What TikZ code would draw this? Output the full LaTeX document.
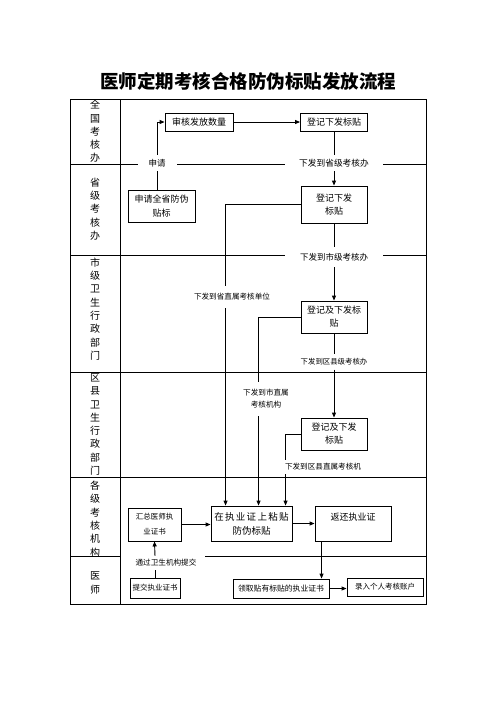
\documentclass[tikz,border=0pt]{standalone}
\usepackage{fontspec}
\setmainfont{Noto Sans CJK SC}
\usetikzlibrary{arrows.meta,calc,positioning}
\definecolor{mo}{HTML}{000000}
\pgfdeclarelayer{dise}
\pgfsetlayers{dise,main}
\newcommand{\kong}{\hspace{1.3pt}}
\tikzset{
  biao/.style={draw=mo,line width=0.9pt},
  kuang/.style={draw=mo,fill=white,line width=0.9pt,inner sep=0pt,align=center,font=\fontsize{9}{13}\selectfont},
  zhu/.style={fill=white,inner xsep=12pt,inner ysep=4pt,align=center,font=\fontsize{7.6}{12}\selectfont},
  lanming/.style={align=center,inner sep=0pt,font=\fontsize{10}{13.3}\selectfont},
  xian/.style={draw=mo,line width=0.9pt},
  jian/.style={xian,-{Triangle[length=5pt,width=4pt]}},
}

\begin{document}
\begin{tikzpicture}[x=1pt,y=-1pt]
\useasboundingbox (0,0) rectangle (496,702);
\node[font=\fontsize{18.5}{22}\selectfont\bfseries] (biaoti) at (248,81) {医师定期考核合格防伪标贴发放流程};
% biaoge
\begin{pgfonlayer}{dise}
\draw[biao] (70,99) rectangle (426,604);
\draw[biao] (120,99) -- (120,604);
\draw[biao] (70,164) -- (426,164);
\draw[biao] (70,255) -- (426,255);
\draw[biao] (70,372) -- (426,372);
\draw[biao] (70,477) -- (426,477);
\draw[biao] (70,556) -- (120,556);
\draw[biao] (205,556) -- (426,556);
\end{pgfonlayer}
\node[lanming] (quanguo) at (95,131.5) {全\\国\\考\\核\\办};
\node[lanming] (shengji) at (95,209) {省\\级\\考\\核\\办};
\node[lanming] (shiji) at (95,309) {市\\级\\卫\\生\\行\\政\\部\\门};
\node[lanming] (quxian) at (95,424.5) {区\\县\\卫\\生\\行\\政\\部\\门};
\node[lanming] (geji) at (95,519) {各\\级\\考\\核\\机\\构};
\node[lanming] (yishi) at (95,583) {医\\师};
% kuang
\node[kuang,minimum width=68,minimum height=18] (shenhe) at (199,122) {审核发放数量};
\node[kuang,minimum width=67,minimum height=18] (dengji1) at (334,122) {登记下发标贴};
\node[kuang,minimum width=67,minimum height=32,font=\fontsize{9}{14}\selectfont] (shenqing) at (161.5,206) {申请全省防伪\\贴标};
\node[kuang,minimum width=66,minimum height=37] (dengji2) at (334,204.5) {登记下发\\标贴};
\node[kuang,minimum width=66,minimum height=32] (dengji3) at (334,317) {登记及下发标\\贴};
\node[kuang,minimum width=66,minimum height=32] (dengji4) at (334,434) {登记及下发\\标贴};
\node[kuang,minimum width=53,minimum height=33,font=\fontsize{7.5}{15}\selectfont] (huizong) at (154.5,524.5) {汇总医师执\\业证书};
\node[kuang,minimum width=81,minimum height=35,font=\fontsize{9.5}{14}\selectfont] (zhantie) at (251.5,523.5) {在\kong 执\kong 业\kong 证\kong 上\kong 粘\kong 贴\\防伪标贴};
\node[kuang,minimum width=76,minimum height=35] (fanhuan) at (353,523.5) {返还执业证\\\mbox{}};
\node[kuang,minimum width=96,minimum height=19,font=\fontsize{7.8}{10}\selectfont] (lingqu) at (281,588.5) {领取贴有标贴的执业证书};
\node[kuang,minimum width=76,minimum height=18,font=\fontsize{7.5}{10}\selectfont] (luru) at (385,587) {录入个人考核账户};
\node[kuang,minimum width=50,minimum height=20,font=\fontsize{7.5}{10}\selectfont] (tijiao) at (155,588) {提交执业证书};
% zhushi
\node[zhu,font=\fontsize{8.5}{10}\selectfont,inner xsep=11pt] (shenqingzi) at (157,163) {申请};
\node[zhu,font=\fontsize{8.7}{10}\selectfont,inner xsep=14pt] (xiafasheng) at (334,163) {下发到省级考核办};
\node[zhu,font=\fontsize{8.5}{10}\selectfont,inner xsep=15pt,inner ysep=6pt] (xiafashi) at (334,257) {下发到市级考核办};
\node[zhu,inner ysep=7pt] (xiafashengzhi) at (232,297) {下发到省直属考核单位};
\node[zhu,font=\fontsize{7.4}{10}\selectfont] (xiafaqu) at (334,362) {下发到区县级考核办};
\node[zhu,inner xsep=5pt,inner ysep=7pt] (xiafashizhi) at (266,399) {下发到市直属\\考核机构};
\node[zhu,inner ysep=3pt,inner xsep=3pt] (xiafaquzhi) at (323,467) {下发到区县直属考核机};
\node[zhu,inner ysep=3pt,inner xsep=3pt] (tongguo) at (166,563) {通过卫生机构提交};
% lianxian
\coordinate (ru1) at ([xshift=15pt]zhantie.north west);
\coordinate (ru2) at ([xshift=48pt]zhantie.north west);
\coordinate (ru3) at ([xshift=75pt]zhantie.north west);
\coordinate (chufan) at ([xshift=7pt]fanhuan.south west);
\begin{pgfonlayer}{dise}
\draw[xian] (shenqingzi.south) -- (shenqingzi.south |- shenqing.north);
\draw[jian] (shenqingzi.north) |- (shenhe.west);
\draw[jian] (shenhe.east) -- (dengji1.west);
\draw[xian] (dengji1.south) -- (xiafasheng.north);
\draw[jian] (xiafasheng.south) -- (dengji2.north);
\draw[jian] (dengji2.west) -| (ru1);
\draw[xian] (dengji2.south) -- (xiafashi.north);
\draw[jian] (xiafashi.south) -- (dengji3.north);
\draw[jian] (dengji3.west) -| (ru2);
\draw[xian] (dengji3.south) -- (xiafaqu.north);
\draw[jian] (xiafaqu.south) -- (dengji4.north);
\draw[jian] (dengji4.west) -| (ru3);
\draw[jian] (huizong.east) -- (huizong.east -| zhantie.west);
\draw[jian] (zhantie.east) -- (zhantie.east -| fanhuan.west);
\draw[jian] (chufan) -- (chufan |- lingqu.north);
\draw[jian] (lingqu.east) -- (lingqu.east -| luru.west);
\draw[xian] (tijiao.north) -- (tijiao.north |- tongguo.south);
\draw[jian] (tijiao.north |- tongguo.north) -- (huizong.south);
\end{pgfonlayer}
\end{tikzpicture}
\end{document}
